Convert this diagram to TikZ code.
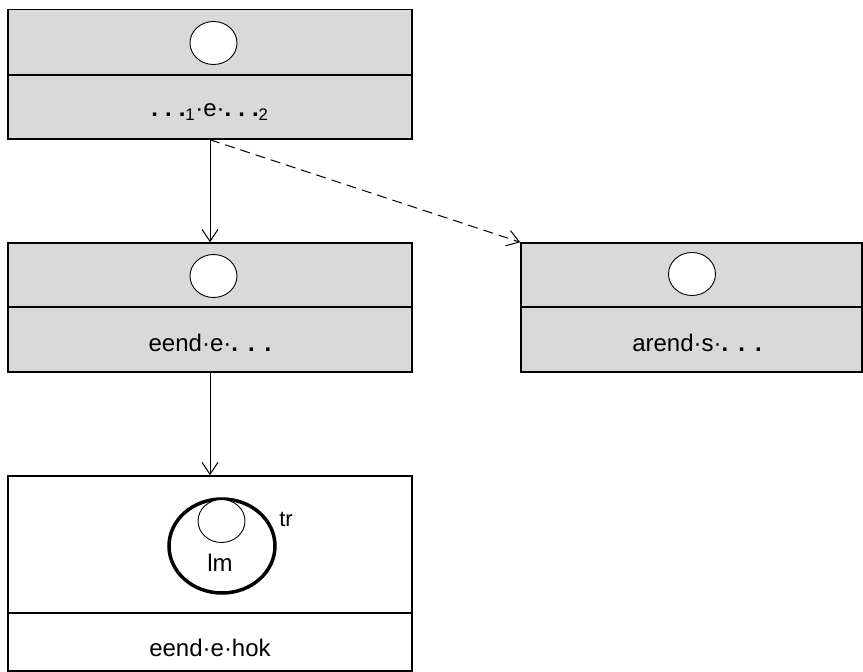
\documentclass[tikz,border=0pt]{standalone}
\usepackage{fontspec}
\setmainfont{Liberation Sans}
\usetikzlibrary{arrows.meta,shapes.geometric}
\definecolor{boxgray}{RGB}{217,217,217}
\newcommand\bigdots{\textbf{.}\hspace{10pt}\textbf{.}\hspace{10pt}\textbf{.}}
\newcommand\smalldots{\textbf{.}\hspace{7pt}\textbf{.}\hspace{7pt}\textbf{.}}
\tikzset{
  part/.style={draw, line width=1.5pt, minimum width=404pt, inner sep=0pt},
  grey/.style={part, fill=boxgray},
  hole/.style={draw, ellipse, fill=white, line width=0.9pt, minimum width=47pt, minimum height=43pt, inner sep=0pt},
  lbl/.style={font=\fontsize{24}{28}\selectfont, inner sep=0pt},
  link/.style={-{Straight Barb[length=12pt,width=16pt]}, line width=1pt}
}
\begin{document}
\begin{tikzpicture}[x=1pt,y=-1pt]
  \useasboundingbox (0,0) rectangle (863,672);
  \node[grey, minimum height=65.5pt] (s1) at (210,42.25) {};
  \node[grey, minimum height=64pt] (l1) at (210,107) {};
  \node[grey, minimum height=64pt] (s2) at (210,275) {};
  \node[grey, minimum height=65pt] (l2) at (210,339.5) {};
  \node[grey, minimum width=341pt, minimum height=64pt] (s3) at (691.5,275) {};
  \node[grey, minimum width=341pt, minimum height=65pt] (l3) at (691.5,339.5) {};
  \node[part, minimum height=137pt] (s4) at (210,544.5) {};
  \node[part, minimum height=58pt] (l4) at (210,642) {};
  \node[hole] (c1) at (213.5,43) {};
  \node[hole] (c2) at (213.5,276) {};
  \node[hole] (c3) at (692,274) {};
  \node[draw, ellipse, line width=3.5pt, minimum width=106pt, minimum height=94pt, inner sep=0pt] (ring) at (222,546) {};
  \node[hole] (lmc) at (221.5,521) {};
  \node[lbl] (lm) at (220,563) {lm};
  \node[lbl, font=\fontsize{22}{26}\selectfont] (tr) at (286,519) {tr};
  \node[lbl] (t1) at (210,112) {\smalldots\textsubscript{1}·e·\smalldots\textsubscript{2}};
  \node[lbl] (t2) at (210,343) {eend·e·\bigdots};
  \node[lbl] (t3) at (697,343) {arend·s·\bigdots};
  \node[lbl] (t4) at (210,648) {eend·e·hok};
  \draw[link] (l1.south) -- (s2.north);
  \draw[link] (l2.south) -- (s4.north);
  \draw[link, dash pattern=on 10pt off 6pt] (l1.south) -- (s3.north west);
\end{tikzpicture}
\end{document}
